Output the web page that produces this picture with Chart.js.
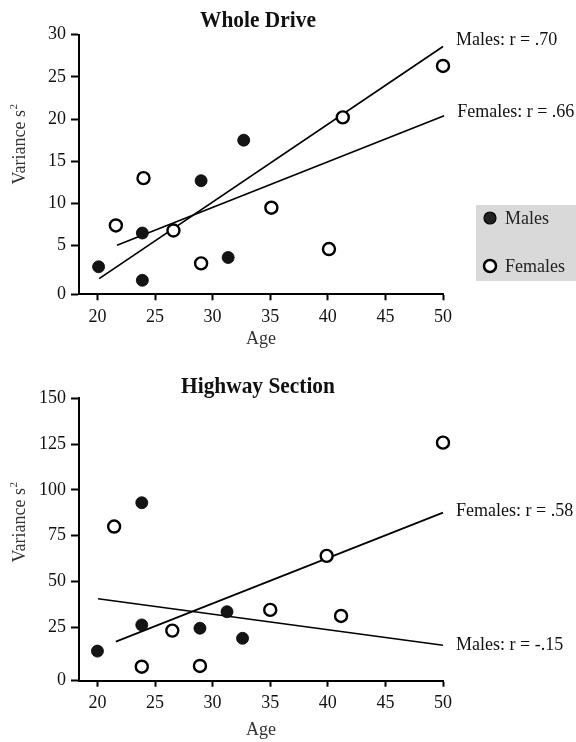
<!DOCTYPE html>
<html>
<head>
<meta charset="utf-8">
<title>Variance by age</title>
<script src="https://cdn.jsdelivr.net/npm/chart.js@4.4.1/dist/chart.umd.min.js"></script>
<style>
  html, body { margin: 0; padding: 0; background: #fff; }
  .panel { position: relative; width: 576px; }
  #whole-wrap { height: 353px; }
  #hw-wrap    { height: 389px; }
</style>
</head>
<body>
<div class="panel" id="whole-wrap"><canvas id="chart-whole"></canvas></div>
<div class="panel" id="hw-wrap"><canvas id="chart-highway"></canvas></div>
<script>
const SERIF = '"Liberation Serif", "Times New Roman", serif';
const INK   = '#111';

// ─── Whole drive ──────────────────────────────────────────────────
const WHOLE_MALE_AGE       = [20.1, 23.9, 23.9, 29.0, 31.35, 32.7];
const WHOLE_MALE_VAR       = [2.5, 6.5, 0.9, 12.7, 3.6, 17.5];
const WHOLE_FEMALE_AGE     = [21.6, 24.0, 26.6, 29.0, 35.1, 40.1, 41.3, 50.0];
const WHOLE_FEMALE_VAR     = [7.4, 13.0, 6.8, 2.9, 9.5, 4.6, 20.2, 26.3];
const WHOLE_MALE_FIT_AGE   = [20.15, 50.0];
const WHOLE_MALE_FIT_VAR   = [1.1, 28.6];
const WHOLE_FEMALE_FIT_AGE = [21.7, 50.1];
const WHOLE_FEMALE_FIT_VAR = [5.05, 20.4];
const WHOLE_Y_TICKS        = [0, 5, 10, 15, 20, 25, 30];
const WHOLE_FIT_LABELS     = ['Males: r = .70', 'Females: r = .66'];

// ─── Highway section ──────────────────────────────────────────────
const HW_MALE_AGE       = [20.0, 23.85, 23.85, 28.9, 31.25, 32.6];
const HW_MALE_VAR       = [12.0, 93.0, 26.3, 24.5, 33.5, 19.0];
const HW_FEMALE_AGE     = [21.45, 23.85, 26.5, 28.9, 35.0, 39.9, 41.15, 50.0];
const HW_FEMALE_VAR     = [80.0, 3.5, 23.2, 3.9, 34.5, 64.0, 31.2, 125.8];
const HW_MALE_FIT_AGE   = [20.05, 50.0];
const HW_MALE_FIT_VAR   = [40.6, 15.2];
const HW_FEMALE_FIT_AGE = [21.6, 50.0];
const HW_FEMALE_FIT_VAR = [17.2, 87.6];
const HW_Y_TICKS        = [0, 25, 50, 75, 100, 125, 150];
const HW_FIT_LABELS     = ['Males: r = -.15', 'Females: r = .58'];

const AGE_TICKS = [20, 25, 30, 35, 40, 45, 50];
const LEGEND    = ['Males', 'Females'];

const pts = (xs, ys) => xs.map((x, i) => ({ x, y: ys[i] }));
const font = (size, weight) => ({ family: SERIF, size, weight: weight || 'normal' });

// titles, rotated y label, r-value notes and the legend box
const panelText = {
  id: 'panelText',
  afterDraw(chart, args, o) {
    const { ctx, chartArea: a, scales: { x, y } } = chart;
    ctx.save();
    ctx.fillStyle = INK;
    ctx.textBaseline = 'middle';

    // panel title, slightly condensed bold serif
    ctx.font = `bold 23px ${SERIF}`;
    ctx.textAlign = 'center';
    ctx.save();
    ctx.translate((a.left + a.right) / 2 - 3, o.titleY);
    ctx.scale(0.93, 1);
    ctx.fillText(o.title, 0, 0);
    ctx.restore();

    // "Variance s²" with a raised 2
    ctx.save();
    ctx.translate(20, (a.top + a.bottom) / 2 + o.yTitleShift);
    ctx.rotate(-Math.PI / 2);
    ctx.fillStyle = '#333';
    ctx.textAlign = 'left';
    ctx.font = `18px ${SERIF}`;
    const main = 'Variance s', w1 = ctx.measureText(main).width;
    ctx.font = `11px ${SERIF}`;
    const w2 = ctx.measureText('2').width;
    ctx.font = `18px ${SERIF}`;
    ctx.fillText(main, -(w1 + w2) / 2, 0);
    ctx.font = `11px ${SERIF}`;
    ctx.fillText('2', -(w1 + w2) / 2 + w1 + 0.5, -6);
    ctx.restore();

    // r-value notes beside the ends of the fit lines
    ctx.font = `18px ${SERIF}`;
    ctx.textAlign = 'left';
    o.notes.forEach(n => {
      ctx.fillText(n.text, x.getPixelForValue(n.age) + 13, y.getPixelForValue(n.val) + n.dy);
    });

    if (o.legend) {
      ctx.fillStyle = '#d9d9d9';
      ctx.fillRect(476, 205, 100, 76);
      const rows = [
        { label: LEGEND[0], cy: 218, fill: '#222', lw: 1.2 },
        { label: LEGEND[1], cy: 266, fill: '#fff', lw: 2.5 },
      ];
      rows.forEach(r => {
        ctx.beginPath();
        ctx.arc(490, r.cy, 6, 0, Math.PI * 2);
        ctx.fillStyle = r.fill; ctx.fill();
        ctx.lineWidth = r.lw; ctx.strokeStyle = '#000'; ctx.stroke();
        ctx.fillStyle = '#222';
        ctx.fillText(r.label, 505, r.cy + 1);
      });
    }
    ctx.restore();
  }
};

function makePanel(id, p) {
  const fitLine = (xs, ys) => ({
    data: pts(xs, ys), showLine: true, borderColor: '#000', borderWidth: 1.7,
    pointRadius: 0, pointHoverRadius: 0, fill: false, tension: 0, clip: false, order: 2,
  });
  return new Chart(document.getElementById(id), {
    type: 'scatter',
    data: {
      datasets: [
        { label: LEGEND[0], data: pts(p.maleAge, p.maleVar), pointRadius: 6, pointHoverRadius: 6,
          pointBackgroundColor: '#141414', pointBorderColor: '#000', pointBorderWidth: 0.8, clip: false, order: 0 },
        { label: LEGEND[1], data: pts(p.femaleAge, p.femaleVar), pointRadius: 6, pointHoverRadius: 6,
          pointBackgroundColor: '#fff', pointBorderColor: '#000', pointBorderWidth: 2.4, clip: false, order: 1 },
        fitLine(p.maleFitAge, p.maleFitVar),
        fitLine(p.femaleFitAge, p.femaleFitVar),
      ],
    },
    options: {
      responsive: true, maintainAspectRatio: false, animation: false, events: [],
      layout: { padding: { top: p.padTop, right: 133, left: 0, bottom: 0 } },
      plugins: {
        legend: { display: false }, tooltip: { enabled: false },
        panelText: {
          title: p.title, titleY: p.titleY, yTitleShift: p.yTitleShift, legend: p.legend,
          notes: [
            { text: p.notes[0], age: p.maleFitAge[1],   val: p.maleFitVar[1],   dy: p.noteDy[0] },
            { text: p.notes[1], age: p.femaleFitAge[1], val: p.femaleFitVar[1], dy: p.noteDy[1] },
          ],
        },
      },
      scales: {
        x: {
          type: 'linear', min: 18.4, max: 50,
          afterBuildTicks: s => { s.ticks = AGE_TICKS.map(v => ({ value: v })); },
          afterFit: s => { s.height = p.xHeight; },
          ticks: { font: font(18), color: INK, padding: 6, maxRotation: 0 },
          grid: { display: true, drawOnChartArea: false, drawTicks: true, tickLength: 6, tickWidth: 2, tickColor: '#000' },
          border: { display: true, color: '#000', width: 2 },
          title: { display: true, text: 'Age', font: font(18), color: '#333', padding: { top: 0, bottom: p.ageGap } },
        },
        y: {
          type: 'linear', min: p.yMin, max: p.yTicks[p.yTicks.length - 1],
          // the zero tick sits on the baseline, which runs a little below zero
          afterBuildTicks: s => { s.ticks = p.yTicks.map(v => ({ value: v === 0 ? s.min : v })); },
          afterFit: s => { s.width = 79; },
          ticks: { font: font(18), color: INK, padding: 5, callback: (v, i) => String(p.yTicks[i]) },
          grid: { display: true, drawOnChartArea: false, drawTicks: true, tickLength: 8, tickWidth: 2, tickColor: '#000' },
          border: { display: true, color: '#000', width: 2 },
        },
      },
    },
    plugins: [panelText],
  });
}

makePanel('chart-whole', {
  title: 'Whole Drive', titleY: 21, yTitleShift: -20, legend: true,
  maleAge: WHOLE_MALE_AGE, maleVar: WHOLE_MALE_VAR,
  femaleAge: WHOLE_FEMALE_AGE, femaleVar: WHOLE_FEMALE_VAR,
  maleFitAge: WHOLE_MALE_FIT_AGE, maleFitVar: WHOLE_MALE_FIT_VAR,
  femaleFitAge: WHOLE_FEMALE_FIT_AGE, femaleFitVar: WHOLE_FEMALE_FIT_VAR,
  notes: WHOLE_FIT_LABELS.slice(), noteDy: [-6, -3],
  yTicks: WHOLE_Y_TICKS, yMin: -0.76,
  padTop: 34.7, xHeight: 58.7, ageGap: 3,
});

makePanel('chart-highway', {
  title: 'Highway Section', titleY: 34, yTitleShift: -17, legend: false,
  maleAge: HW_MALE_AGE, maleVar: HW_MALE_VAR,
  femaleAge: HW_FEMALE_AGE, femaleVar: HW_FEMALE_VAR,
  maleFitAge: HW_MALE_FIT_AGE, maleFitVar: HW_MALE_FIT_VAR,
  femaleFitAge: HW_FEMALE_FIT_AGE, femaleFitVar: HW_FEMALE_FIT_VAR,
  notes: HW_FIT_LABELS.slice(), noteDy: [0, -1],
  yTicks: HW_Y_TICKS, yMin: -4.15,
  padTop: 45.3, xHeight: 61.3, ageGap: 1,
});
</script>
</body>
</html>
